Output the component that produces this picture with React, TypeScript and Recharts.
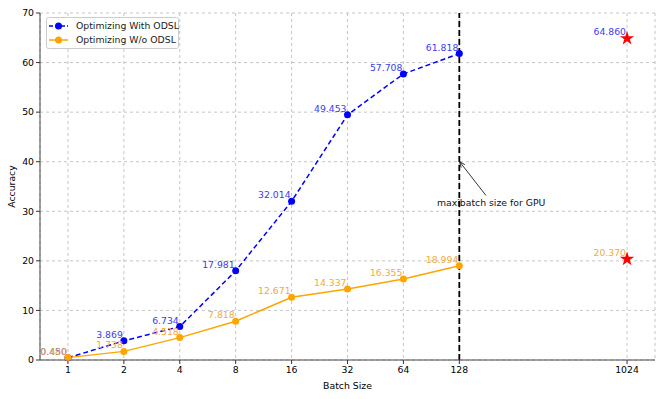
import {
  ComposedChart,
  Line,
  Scatter,
  XAxis,
  YAxis,
  CartesianGrid,
  ReferenceLine,
  ReferenceDot,
  LabelList,
} from "recharts";

const batchSizes = [1, 2, 4, 8, 16, 32, 64, 128];
const withOdsl = [0.45, 3.869, 6.734, 17.981, 32.014, 49.453, 57.708, 61.818];
const withoutOdsl = [0.48, 1.738, 4.518, 7.818, 12.671, 14.337, 16.355, 18.994];
const starBatch = 1024;
const starWith = 64.86;
const starWithout = 20.37;
const xTicks = [1, 2, 4, 8, 16, 32, 64, 128, 1024];
const yTicks = [0, 10, 20, 30, 40, 50, 60, 70];

const FONT = "DejaVu Sans, sans-serif";
const FS = 9.3;
const BLUE = "#0000ff";
const ORANGE = "#ffa500";
const BLUE_TXT = "#3c3cf0";
const ORANGE_TXT = "#f2ab3c";

const rows = batchSizes.map((b, i) => ({
  batch: b,
  with: withOdsl[i],
  without: withoutOdsl[i],
}));

const makeLabel = (color: string) => (props: any) => {
  const { x, y, width, height, value } = props;
  const cx = x + (width || 0) / 2;
  const cy = y + (height || 0) / 2;
  return (
    <text
      x={cx - 1}
      y={cy - 3}
      textAnchor="end"
      fill={color}
      fontSize={FS}
      fontFamily={FONT}
    >
      {Number(value).toFixed(3)}
    </text>
  );
};

function LegendBox() {
  const items = [
    { name: "Optimizing With ODSL", color: BLUE, dash: "4 2" },
    { name: "Optimizing W/o ODSL", color: ORANGE, dash: undefined },
  ];
  return (
    <svg width={134} height={33} style={{ display: "block" }}>
      <rect x={0.5} y={0.5} width={132} height={31} rx={2} fill="#fff" stroke="#ccc" />
      {items.map((it, i) => (
        <g key={it.name} transform={`translate(0, ${9 + i * 14})`}>
          <line x1={3} x2={22} y1={0} y2={0} stroke={it.color} strokeWidth={1.5} strokeDasharray={it.dash} />
          <circle cx={12.5} cy={0} r={3.5} fill={it.color} />
          <text x={30} y={3.3} fontSize={FS} fontFamily={FONT} fill="#222">
            {it.name}
          </text>
        </g>
      ))}
    </svg>
  );
}

const arrowShape = (props: any) => {
  const { x1, y1, x2, y2 } = props;
  const ang = Math.atan2(y2 - y1, x2 - x1);
  const len = 6;
  const a1 = ang + Math.PI - 0.4;
  const a2 = ang + Math.PI + 0.4;
  return (
    <g>
      <line x1={x1} y1={y1} x2={x2} y2={y2} stroke="#000" strokeWidth={0.8} />
      <path
        d={`M${x2 + len * Math.cos(a1)},${y2 + len * Math.sin(a1)} L${x2},${y2} L${x2 + len * Math.cos(a2)},${y2 + len * Math.sin(a2)}`}
        fill="none"
        stroke="#000"
        strokeWidth={0.8}
      />
    </g>
  );
};

export default function App() {
  return (
    <div style={{ position: "absolute", left: 0, top: 0, width: 664, height: 399, background: "#fff" }}>
      <ComposedChart
        width={664}
        height={399}
        data={rows}
        margin={{ top: 13, right: 9, left: 0, bottom: 0 }}
      >
        <CartesianGrid stroke="#b8b8b8" strokeDasharray="3 3" strokeWidth={0.8} />
        <XAxis
          dataKey="batch"
          type="number"
          scale="log"
          domain={[Math.SQRT1_2, 1024 * Math.SQRT2]}
          allowDataOverflow
          ticks={xTicks}
          interval={0}
          height={39}
          tick={{ fontSize: FS, fill: "#000", fontFamily: FONT }}
          tickLine={{ stroke: "#333" }}
          tickSize={4}
          axisLine={{ stroke: "#444" }}
          label={{ value: "Batch Size", position: "insideBottom", offset: 10, fontSize: FS, fill: "#000", fontFamily: FONT }}
        />
        <XAxis xAxisId="top" orientation="top" type="number" domain={[0, 1]} height={0} tick={false} tickLine={false} axisLine={{ stroke: "#444" }} />
        <YAxis
          type="number"
          domain={[0, 70]}
          ticks={yTicks}
          width={40}
          tick={{ fontSize: FS, fill: "#000", fontFamily: FONT }}
          tickLine={{ stroke: "#333" }}
          tickSize={4}
          axisLine={{ stroke: "#444" }}
          label={{ value: "Accuracy", angle: -90, position: "insideLeft", offset: 12, fontSize: FS, fill: "#000", fontFamily: FONT, style: { textAnchor: "middle" } }}
        />
        <YAxis yAxisId="right" orientation="right" width={0} tick={false} tickLine={false} axisLine={{ stroke: "#444" }} />
        <ReferenceLine x={128} stroke="#000" strokeWidth={1.8} strokeDasharray="6 3" />
        <ReferenceLine
          segment={[
            { x: 178, y: 33.2 },
            { x: 128.5, y: 40 },
          ]}
          shape={arrowShape}
        />
        <ReferenceDot
          x={190}
          y={31.7}
          r={1}
          fill="none"
          stroke="none"
          label={{ value: "maxibatch size for GPU", position: "center", fontSize: FS, fill: "#111", fontFamily: FONT }}
        />
        <Line
          type="linear"
          dataKey="with"
          stroke={BLUE}
          strokeWidth={1.5}
          strokeDasharray="5 3"
          dot={{ r: 3.5, fill: BLUE, stroke: BLUE, strokeWidth: 0 }}
          isAnimationActive={false}
        >
          <LabelList dataKey="with" content={makeLabel(BLUE_TXT)} />
        </Line>
        <Line
          type="linear"
          dataKey="without"
          stroke={ORANGE}
          strokeWidth={1.5}
          dot={{ r: 3.5, fill: ORANGE, stroke: ORANGE, strokeWidth: 0 }}
          isAnimationActive={false}
        >
          <LabelList dataKey="without" content={makeLabel(ORANGE_TXT)} />
        </Line>
        <Scatter data={[{ batch: starBatch, acc: starWith }]} dataKey="acc" shape="star" fill="#ff0000" isAnimationActive={false}>
          <LabelList dataKey="acc" content={makeLabel(BLUE_TXT)} />
        </Scatter>
        <Scatter data={[{ batch: starBatch, acc: starWithout }]} dataKey="acc" shape="star" fill="#ff0000" isAnimationActive={false}>
          <LabelList dataKey="acc" content={makeLabel(ORANGE_TXT)} />
        </Scatter>
      </ComposedChart>
      <div style={{ position: "absolute", left: 46, top: 17 }}>
        <LegendBox />
      </div>
    </div>
  );
}
